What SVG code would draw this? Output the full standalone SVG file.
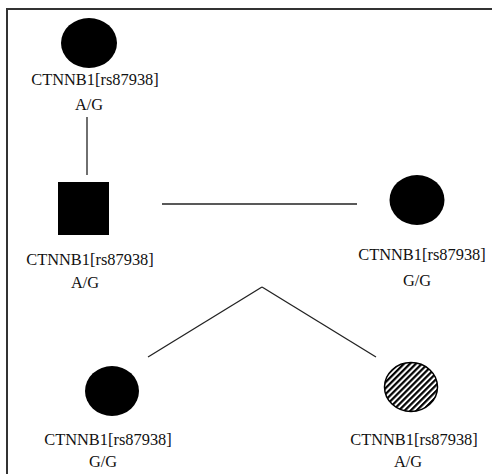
<svg xmlns="http://www.w3.org/2000/svg" width="492" height="474" viewBox="0 0 492 474">
<style>
.lbl{font-family:"Liberation Serif","Times New Roman",serif;font-size:16.4px;fill:#111;text-anchor:middle}
.ln{stroke:#222;stroke-width:1.3;fill:none}
.fill{fill:#000}
</style>
<defs>
<pattern id="hatch" patternUnits="userSpaceOnUse" width="4.2" height="4.2" patternTransform="rotate(45)">
<rect width="4.2" height="4.2" fill="#fff"/>
<rect width="2.2" height="4.2" fill="#000"/>
</pattern>
</defs>
<rect width="492" height="474" fill="#fff"/>
<path d="M7 474 V9 H492" stroke="#333" stroke-width="2" fill="none"/>
<g id="connectors">
<line class="ln" x1="87" y1="117" x2="87" y2="175"/>
<line class="ln" x1="162" y1="204" x2="357" y2="204"/>
<line class="ln" x1="148" y1="357" x2="262" y2="287"/>
<line class="ln" x1="262" y1="287" x2="376" y2="357"/>
</g>
<g id="node-grandmother">
<ellipse class="fill" cx="89" cy="43" rx="28" ry="25"/>
<text class="lbl" x="95" y="85">CTNNB1[rs87938]</text>
<text class="lbl" x="89" y="110">A/G</text>
</g>
<g id="node-father">
<rect class="fill" x="58" y="182" width="51" height="53"/>
<text class="lbl" x="90" y="265">CTNNB1[rs87938]</text>
<text class="lbl" x="85" y="288">A/G</text>
</g>
<g id="node-mother">
<ellipse class="fill" cx="417" cy="200" rx="27.5" ry="25"/>
<text class="lbl" x="422" y="260">CTNNB1[rs87938]</text>
<text class="lbl" x="417" y="286">G/G</text>
</g>
<g id="node-child1">
<ellipse class="fill" cx="112" cy="391" rx="27" ry="25"/>
<text class="lbl" x="108" y="445">CTNNB1[rs87938]</text>
<text class="lbl" x="103" y="467">G/G</text>
</g>
<g id="node-child2">
<ellipse cx="411" cy="387" rx="26.5" ry="24.5" fill="url(#hatch)" stroke="#000" stroke-width="1.5"/>
<text class="lbl" x="414" y="445">CTNNB1[rs87938]</text>
<text class="lbl" x="408" y="467">A/G</text>
</g>
</svg>
